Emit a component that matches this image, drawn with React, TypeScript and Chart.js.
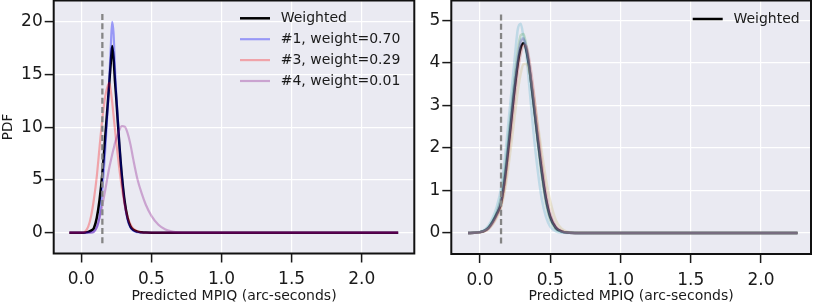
import React, { useEffect, useRef } from "react";
import { Chart, registerables } from "chart.js";

Chart.register(...registerables);

// ---------------- Left panel data ----------------
const xLeft = [-0.085, -0.04, 0, 0.03, 0.05, 0.07, 0.09, 0.11, 0.13, 0.15, 0.17, 0.19, 0.2, 0.21, 0.22, 0.23, 0.24, 0.25, 0.27, 0.29, 0.31, 0.33, 0.35, 0.37, 0.4, 0.43, 0.46, 0.5, 0.55, 0.6, 0.65, 0.7, 0.8, 1.0, 1.5, 2.0, 2.26];
const weightedLeft = [0, 0, 0, 0.03, 0.08, 0.2, 0.45, 1.4, 3.1, 5.6, 9.0, 12.5, 14.3, 16.1, 17.7, 16.6, 14.4, 12.6, 8.6, 5.3, 2.9, 1.4, 0.6, 0.28, 0.1, 0.04, 0.01, 0, 0, 0, 0, 0, 0, 0, 0, 0, 0];
const model1 = [0, 0, 0, 0, 0.01, 0.02, 0.1, 0.5, 1.5, 4.1, 7.7, 12.2, 14.8, 17.6, 20.0, 18.9, 15.6, 13.0, 8.7, 5.2, 2.7, 1.2, 0.5, 0.2, 0.05, 0.01, 0, 0, 0, 0, 0, 0, 0, 0, 0, 0, 0];
const model3 = [0, 0, 0, 0.15, 0.6, 1.6, 3.2, 5.3, 8.1, 10.8, 12.9, 14.0, 14.2, 13.5, 12.4, 11.1, 9.8, 8.5, 6.2, 4.2, 2.6, 1.5, 0.8, 0.4, 0.13, 0.04, 0.01, 0, 0, 0, 0, 0, 0, 0, 0, 0, 0];
const model4 = [0, 0, 0, 0, 0, 0, 0.1, 0.5, 1.4, 2.6, 4.0, 5.5, 6.2, 6.8, 7.4, 7.95, 8.5, 8.95, 9.7, 10.1, 10.05, 9.45, 8.4, 7.0, 5.1, 3.75, 2.65, 1.6, 0.75, 0.3, 0.1, 0.03, 0, 0, 0, 0, 0];
const leftLabels = ["Weighted", "#1, weight=0.70", "#3, weight=0.29", "#4, weight=0.01"];

// ---------------- Right panel data ----------------
const xRight = [-0.085, -0.04, 0, 0.03, 0.06, 0.09, 0.12, 0.15, 0.18, 0.21, 0.24, 0.27, 0.29, 0.31, 0.33, 0.35, 0.38, 0.41, 0.44, 0.47, 0.5, 0.54, 0.58, 0.62, 0.7, 1.0, 1.5, 2.0, 2.26];
const weightedRight = [0, 0.005, 0.02, 0.05, 0.12, 0.26, 0.45, 0.7, 1.35, 2.25, 3.2, 4.0, 4.35, 4.46, 4.3, 3.9, 3.1, 2.25, 1.45, 0.8, 0.38, 0.12, 0.04, 0.01, 0, 0, 0, 0, 0];
const runCyan = [0, 0.01, 0.03, 0.07, 0.17, 0.35, 0.62, 1.05, 1.85, 2.85, 3.85, 4.8, 4.92, 4.6, 4.2, 3.5, 2.4, 1.5, 0.8, 0.38, 0.15, 0.04, 0.01, 0, 0, 0, 0, 0, 0];
const runKhaki = [0, 0.005, 0.02, 0.04, 0.09, 0.2, 0.36, 0.6, 1.05, 1.75, 2.55, 3.35, 3.75, 3.97, 3.98, 3.8, 3.3, 2.6, 1.9, 1.25, 0.75, 0.3, 0.1, 0.03, 0.005, 0, 0, 0, 0];
const runGreen = [0, 0.005, 0.02, 0.05, 0.13, 0.28, 0.5, 0.85, 1.55, 2.5, 3.45, 4.3, 4.65, 4.68, 4.4, 3.95, 3.05, 2.15, 1.3, 0.68, 0.3, 0.09, 0.03, 0.01, 0, 0, 0, 0, 0];
const runBlue = [0, 0.005, 0.02, 0.05, 0.12, 0.27, 0.47, 0.8, 1.45, 2.4, 3.35, 4.15, 4.52, 4.58, 4.35, 3.95, 3.1, 2.2, 1.4, 0.75, 0.35, 0.11, 0.03, 0.01, 0, 0, 0, 0, 0];
const runRed = [0, 0.005, 0.015, 0.04, 0.1, 0.22, 0.4, 0.65, 1.2, 2.05, 2.95, 3.8, 4.2, 4.42, 4.4, 4.1, 3.4, 2.5, 1.65, 0.95, 0.47, 0.16, 0.05, 0.01, 0, 0, 0, 0, 0];
const runPurple = [0, 0.005, 0.02, 0.05, 0.11, 0.24, 0.43, 0.72, 1.35, 2.25, 3.2, 4.05, 4.45, 4.55, 4.35, 3.95, 3.15, 2.3, 1.5, 0.82, 0.4, 0.13, 0.04, 0.01, 0, 0, 0, 0, 0];

// Reference (dashed) line
const refX = 0.15;
const refYLeft: [number, number] = [-1, 21];
const refYRight: [number, number] = [-0.25, 5.2];

const xTitle = "Predicted MPIQ (arc-seconds)";
const FONT = "'DejaVu Sans', 'Liberation Sans', sans-serif";
const TEXT = "#1a1a1a";

type Series = { label: string; data: number[]; color: string; width: number; legend: boolean };

interface PanelCfg {
  xs: number[];
  series: Series[];
  refY: [number, number];
  xMin: number; xMax: number; yMin: number; yMax: number; yStep: number;
  yAxisWidth: number; xAxisHeight: number; padRight: number; padTop: number;
  legendX: number; legendY: number; rowH: number; yTitle: string;
}

function makePlugin(cfg: PanelCfg) {
  return {
    id: "panelDeco",
    beforeDraw(chart: any) {
      const { ctx, chartArea: a } = chart;
      ctx.save();
      ctx.fillStyle = "#EAEAF2";
      ctx.fillRect(a.left, a.top, a.right - a.left, a.bottom - a.top);
      ctx.restore();
    },
    afterDatasetsDraw(chart: any) {
      const { ctx, chartArea: a } = chart;
      ctx.save();
      ctx.font = `14px ${FONT}`;
      ctx.textBaseline = "middle";
      ctx.textAlign = "left";
      const items = cfg.series.filter((s) => s.legend);
      items.forEach((s, i) => {
        const y = cfg.legendY + i * cfg.rowH;
        ctx.strokeStyle = s.color;
        ctx.lineWidth = s.width;
        ctx.beginPath();
        ctx.moveTo(cfg.legendX, y);
        ctx.lineTo(cfg.legendX + 30, y);
        ctx.stroke();
        ctx.fillStyle = TEXT;
        ctx.fillText(s.label, cfg.legendX + 40.7, y + 0.5);
      });
      ctx.strokeStyle = "#111";
      ctx.lineWidth = 2;
      ctx.strokeRect(a.left, a.top, a.right - a.left, a.bottom - a.top);
      ctx.restore();
    },
  };
}

function makeConfig(cfg: PanelCfg): any {
  const n = cfg.series.length;
  const datasets: any[] = cfg.series.map((s, i) => ({
    label: s.label,
    data: cfg.xs.map((x, j) => ({ x, y: s.data[j] })),
    borderColor: s.color,
    borderWidth: s.width,
    pointRadius: 0,
    fill: false,
    cubicInterpolationMode: "monotone",
    order: n - i,
  }));
  datasets.push({
    label: "ref",
    data: [
      { x: refX, y: cfg.refY[0] },
      { x: refX, y: cfg.refY[1] },
    ],
    borderColor: "#858585",
    borderWidth: 2.3,
    borderDash: [6, 3.3],
    pointRadius: 0,
    fill: false,
    order: 0,
  });
  return {
    type: "line",
    data: { datasets },
    options: {
      animation: false,
      responsive: false,
      devicePixelRatio: 1,
      layout: { padding: { left: 0, top: cfg.padTop, right: cfg.padRight, bottom: 0 } },
      plugins: { legend: { display: false }, tooltip: { enabled: false } },
      scales: {
        x: {
          type: "linear",
          min: cfg.xMin,
          max: cfg.xMax,
          afterFit: (s: any) => {
            s.height = cfg.xAxisHeight;
            s.paddingLeft = 0; s.paddingRight = 0; s.paddingTop = 0; s.paddingBottom = 0;
          },
          ticks: {
            stepSize: 0.5,
            includeBounds: false,
            autoSkip: false,
            maxRotation: 0,
            padding: 7,
            color: TEXT,
            font: { family: FONT, size: 17 },
            callback: (v: any) => Number(v).toFixed(1),
          },
          grid: { color: "#ffffff", lineWidth: 1.2, tickColor: TEXT, tickLength: 9, tickWidth: 1.5 },
          border: { display: false },
          title: { display: true, text: xTitle, color: TEXT, font: { family: FONT, size: 14 }, padding: { top: 0, bottom: -2 } },
        },
        y: {
          type: "linear",
          min: cfg.yMin,
          max: cfg.yMax,
          afterFit: (s: any) => {
            s.width = cfg.yAxisWidth;
            s.paddingLeft = 0; s.paddingRight = 0; s.paddingTop = 0; s.paddingBottom = 0;
          },
          ticks: {
            stepSize: cfg.yStep,
            includeBounds: false,
            autoSkip: false,
            padding: 2,
            color: TEXT,
            font: { family: FONT, size: 17 },
            callback: (v: any) => String(Math.round(Number(v))),
          },
          grid: { color: "#ffffff", lineWidth: 1.2, tickColor: TEXT, tickLength: 9, tickWidth: 1.5 },
          border: { display: false },
          title: { display: cfg.yTitle !== "", text: cfg.yTitle, color: TEXT, font: { family: FONT, size: 13.5 }, padding: { top: 0, bottom: 0 } },
        },
      },
    },
    plugins: [makePlugin(cfg)],
  };
}

const leftCfg: PanelCfg = {
  xs: xLeft,
  series: [
    { label: leftLabels[0], data: weightedLeft, color: "#000000", width: 2.5, legend: true },
    { label: leftLabels[1], data: model1, color: "rgba(0,0,255,0.35)", width: 2.2, legend: true },
    { label: leftLabels[2], data: model3, color: "rgba(255,0,0,0.3)", width: 2.2, legend: true },
    { label: leftLabels[3], data: model4, color: "rgba(128,0,128,0.3)", width: 2.2, legend: true },
  ],
  refY: refYLeft,
  xMin: -0.197, xMax: 2.375, yMin: -1.97, yMax: 22.02, yStep: 5,
  yAxisWidth: 53.7, xAxisHeight: 303 - 253.5, padRight: 420 - 414.3, padTop: 0.5,
  legendX: 240, legendY: 18.3, rowH: 20.9, yTitle: "PDF",
};

const rightCfg: PanelCfg = {
  xs: xRight,
  series: [
    { label: "Weighted", data: weightedRight, color: "#000000", width: 2.5, legend: true },
    { label: "run 1", data: runCyan, color: "rgba(100,181,205,0.32)", width: 2.5, legend: false },
    { label: "run 2", data: runKhaki, color: "rgba(204,185,116,0.3)", width: 2.5, legend: false },
    { label: "run 3", data: runGreen, color: "rgba(85,168,104,0.3)", width: 2.5, legend: false },
    { label: "run 4", data: runBlue, color: "rgba(76,114,176,0.3)", width: 2.5, legend: false },
    { label: "run 5", data: runRed, color: "rgba(196,78,82,0.3)", width: 2.5, legend: false },
    { label: "run 6", data: runPurple, color: "rgba(129,114,178,0.32)", width: 2.5, legend: false },
  ],
  refY: refYRight,
  xMin: -0.204, xMax: 2.356, yMin: -0.494, yMax: 5.466, yStep: 1,
  yAxisWidth: 31.3, xAxisHeight: 303 - 254, padRight: 3, padTop: 0.5,
  legendX: 272.7, legendY: 19, rowH: 20.9, yTitle: "",
};

export default function App() {
  const leftRef = useRef<HTMLCanvasElement>(null);
  const rightRef = useRef<HTMLCanvasElement>(null);
  useEffect(() => {
    const c1 = new Chart(leftRef.current as HTMLCanvasElement, makeConfig(leftCfg));
    const c2 = new Chart(rightRef.current as HTMLCanvasElement, makeConfig(rightCfg));
    return () => {
      c1.destroy();
      c2.destroy();
    };
  }, []);
  return (
    <div style={{ position: "fixed", left: 0, top: 0, width: 814, height: 303, background: "#ffffff" }}>
      <canvas ref={leftRef} width={420} height={303} style={{ position: "absolute", left: 0, top: 0, width: 420, height: 303 }} />
      <canvas ref={rightRef} width={394} height={303} style={{ position: "absolute", left: 420, top: 0, width: 394, height: 303 }} />
    </div>
  );
}
